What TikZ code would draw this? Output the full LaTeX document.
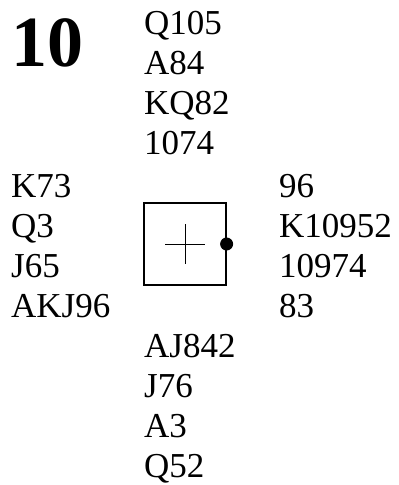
\documentclass[tikz,border=0pt]{standalone}
\usepackage{fontspec}
\setmainfont{Liberation Serif}
\tikzset{hand/.style={anchor=base west, inner sep=0pt, align=left, font=\fontsize{35bp}{40bp}\selectfont}}

\begin{document}
\begin{tikzpicture}[x=1bp,y=-1bp]
\useasboundingbox (0,0) rectangle (398,485);
\node (board) [anchor=base west, inner sep=0pt, font=\fontsize{72bp}{72bp}\selectfont\bfseries] at (11,67) {10};
\node (north) [hand] at (144,155) {Q105\\A84\\KQ82\\1074};
\node (west) [hand] at (11,317) {K73\\Q3\\J65\\AKJ96};
\node (east) [hand] at (279,317) {96\\K10952\\10974\\83};
\node (south) [hand] at (144,477) {AJ842\\J76\\A3\\Q52};
\node (table) [draw, line width=1.2bp, minimum size=82bp, inner sep=0pt] at (185,244) {};
\draw (table.center) ++(-20,0) -- ++(40,0);
\draw (table.center) ++(0,-20) -- ++(0,40);
\fill (table.east) circle (6.5);
\end{tikzpicture}
\end{document}
